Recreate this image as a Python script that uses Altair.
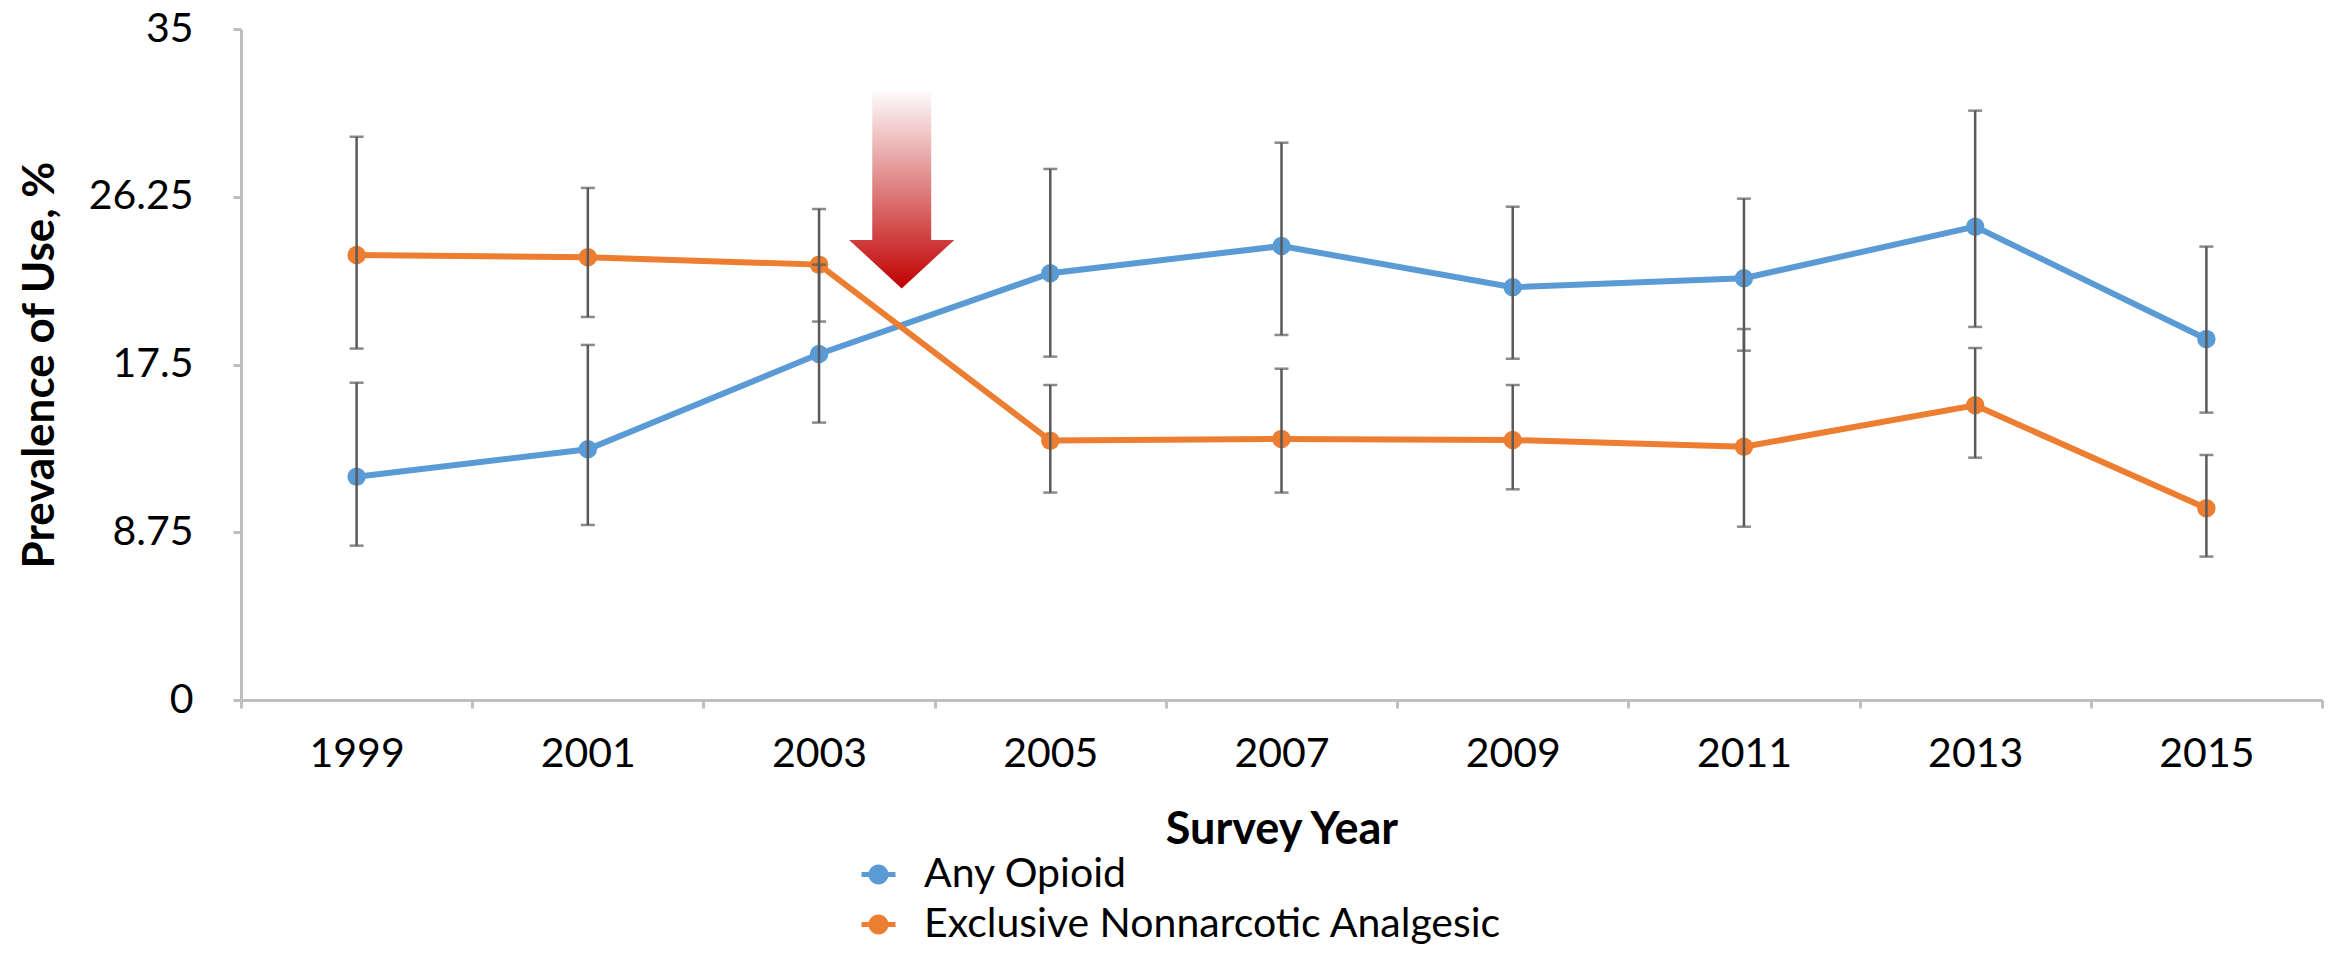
import altair as alt
import pandas as pd

years = ["1999", "2001", "2003", "2005", "2007", "2009", "2011", "2013", "2015"]
series_names = ["Any Opioid", "Exclusive Nonnarcotic Analgesic"]
opioid = [11.65, 13.08, 18.05, 22.26, 23.68, 21.53, 22.0, 24.69, 18.83]
opioid_lo = [8.05, 9.13, 14.47, 17.91, 19.04, 17.80, 18.22, 19.46, 14.99]
opioid_hi = [16.55, 18.52, 22.71, 27.70, 29.07, 25.73, 26.15, 30.74, 23.65]
nonnarc = [23.21, 23.09, 22.71, 13.53, 13.62, 13.56, 13.21, 15.37, 10.0]
nonnarc_lo = [18.33, 19.98, 19.74, 10.82, 10.82, 10.99, 9.04, 12.64, 7.48]
nonnarc_hi = [29.38, 26.71, 25.61, 16.43, 17.28, 16.43, 19.35, 18.36, 12.78]
y_ticks = [0, 8.75, 17.5, 26.25, 35]
colors = ["#5B9BD5", "#ED7D31"]

# arrow annotation (year position on a continuous axis, value on y)
arrow_shaft = {"x": [2003.46], "x2": [2003.97], "value": [31.9], "value2": [24.0]}
arrow_head = {"x": [2003.26, 2003.715, 2004.17], "value": [24.0, 21.46, 24.0]}

rows = []
for s, vals, lo, hi in [(series_names[0], opioid, opioid_lo, opioid_hi),
                        (series_names[1], nonnarc, nonnarc_lo, nonnarc_hi)]:
    for yr, v, l, h in zip(years, vals, lo, hi):
        rows.append({"year": yr, "series": s, "value": v, "lo": l, "hi": h})
df = pd.DataFrame(rows)

FONT = "Lato"
W, H = 2081, 671

legend_path = ("M-1,-0.15 L-0.5,-0.15 L-0.5,0.15 L-1,0.15 Z "
               "M0.5,-0.15 L1,-0.15 L1,0.15 L0.5,0.15 Z "
               "M0.59,0 A0.59,0.59 0 1,1 -0.59,0 A0.59,0.59 0 1,1 0.59,0 Z")

xenc = alt.X("year:O", scale=alt.Scale(type="band", paddingInner=0, paddingOuter=0),
             axis=alt.Axis(title="Survey Year", labelAngle=0, tickBand="extent",
                           labelBaseline="alphabetic", labelPadding=58,
                           titleFont=FONT, titleFontWeight="bold", titleFontSize=45,
                           titleBaseline="alphabetic", titleY=143))
yscale = alt.Scale(domain=[0, 35], nice=False)
YT = "Prevalence of Use, %"
yaxis = alt.Axis(values=y_ticks, labelExpr="'' + datum.value", title=YT,
                 labelPadding=40, titleFont=FONT, titleFontWeight="bold",
                 titleFontSize=44, titleBaseline="alphabetic", titleX=-188)
yenc = alt.Y("value:Q", scale=yscale, axis=yaxis, title=YT)
color = alt.Color("series:N", scale=alt.Scale(domain=series_names, range=colors),
                  legend=alt.Legend(title=None, orient="none", legendX=617, legendY=825,
                                    direction="vertical", symbolType=legend_path,
                                    symbolSize=1156, symbolStrokeWidth=0,
                                    labelFont=FONT, labelFontSize=41, labelColor="black",
                                    labelOffset=25, rowPadding=8, padding=0,
                                    labelLimit=2000))

base = alt.Chart(df)
lines = base.mark_line(strokeWidth=6).encode(x=xenc, y=yenc, color=color)
points = base.mark_point(filled=True, size=340, opacity=1, shape="circle").encode(
    x=xenc, y=yenc, color=color)
err = base.mark_rule(color="#595959", strokeWidth=2.5).encode(
    x=xenc, y=alt.Y("lo:Q", scale=yscale, axis=yaxis, title=YT), y2="hi:Q")
cap_lo = base.mark_tick(color="#595959", thickness=2.5, size=14).encode(
    x=xenc, y=alt.Y("lo:Q", scale=yscale, axis=yaxis, title=YT))
cap_hi = base.mark_tick(color="#595959", thickness=2.5, size=14).encode(
    x=xenc, y=alt.Y("hi:Q", scale=yscale, axis=yaxis, title=YT))

main = alt.layer(lines, points, err, cap_lo, cap_hi)

ax = alt.Scale(domain=[1998, 2016], nice=False, zero=False)
shaft_grad = alt.Gradient(gradient="linear", x1=0, x2=0, y1=0, y2=1,
                          stops=[alt.GradientStop(offset=0, color="#ffffff"),
                                 alt.GradientStop(offset=1, color="#CF3E3E")])
head_grad = alt.Gradient(gradient="linear", x1=0, x2=0, y1=0, y2=1,
                         stops=[alt.GradientStop(offset=0, color="#CF3E3E"),
                                alt.GradientStop(offset=1, color="#C00000")])
shaft = alt.Chart(pd.DataFrame(arrow_shaft)).mark_rect(fill=shaft_grad).encode(
    x=alt.X("x:Q", scale=ax, axis=None), x2="x2:Q",
    y=alt.Y("value:Q", scale=yscale, axis=yaxis, title=YT), y2="value2:Q")
head = alt.Chart(pd.DataFrame(arrow_head)).mark_area(fill=head_grad).encode(
    x=alt.X("x:Q", scale=ax, axis=None),
    y=alt.Y("value:Q", scale=yscale, axis=yaxis, title=YT),
    y2=alt.datum(24.0))
arrow = alt.layer(shaft, head)

chart = alt.layer(main, arrow).resolve_scale(x="independent").properties(
    width=W, height=H,
    autosize=alt.AutoSizeParams(type="none"),
    padding={"left": 233, "top": 21, "right": 3, "bottom": 250},
).configure_view(stroke=None).configure_axis(
    domainColor="#BFBFBF", domainWidth=3, tickColor="#BFBFBF", tickWidth=3,
    tickSize=8, grid=False, labelFont=FONT, labelFontSize=41, labelColor="black",
    titleColor="black"
)

chart.save("out.html", embed_options={"renderer": "svg", "actions": False})
